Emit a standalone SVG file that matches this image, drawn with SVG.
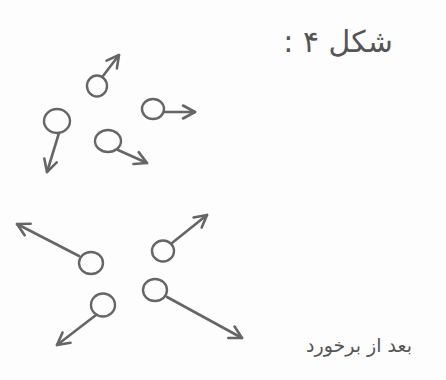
<svg xmlns="http://www.w3.org/2000/svg" width="446" height="380" viewBox="0 0 446 380">
<defs>
<style>
.c{fill:none;stroke:#666;stroke-width:2.4}
.a{fill:none;stroke:#666;stroke-width:2.6;stroke-linecap:round;marker-end:url(#h)}
.t{font-family:"DejaVu Sans","Noto Sans",sans-serif;fill:#555;direction:rtl}
</style>
<marker id="h" viewBox="-14 -9 16 18" markerWidth="16" markerHeight="18" refX="0" refY="0" orient="auto" markerUnits="userSpaceOnUse">
<path d="M-12,-6.5 L0,0 L-12,6.5" fill="none" stroke="#666" stroke-width="2.6" stroke-linecap="round" stroke-linejoin="round"/>
</marker>
</defs>
<rect width="446" height="380" fill="#fdfdfd"/>
<g id="before">
<g id="b1"><ellipse class="c" cx="97" cy="86" rx="10" ry="10.5"/></g>
<g id="b2"><ellipse class="c" cx="153" cy="109" rx="11" ry="10"/></g>
<g id="b3"><ellipse class="c" cx="57" cy="121" rx="13" ry="12"/></g>
<g id="b4"><ellipse class="c" cx="108" cy="141" rx="13" ry="11"/></g>
</g>
<g id="after">
<g id="a1"><ellipse class="c" cx="91" cy="263" rx="12" ry="11"/></g>
<g id="a2"><ellipse class="c" cx="163" cy="251" rx="11" ry="10.5"/></g>
<g id="a3"><ellipse class="c" cx="155" cy="290" rx="12" ry="11"/></g>
<g id="a4"><ellipse class="c" cx="103" cy="305" rx="12" ry="11.5"/></g>
</g>
<g id="connectors">
<line class="a" x1="103" y1="76" x2="119" y2="55"/>
<line class="a" x1="164" y1="112" x2="195" y2="112"/>
<line class="a" x1="59" y1="133" x2="47" y2="172"/>
<line class="a" x1="118" y1="150" x2="147" y2="163"/>
<line class="a" x1="79" y1="256" x2="17" y2="224"/>
<line class="a" x1="172" y1="243" x2="207" y2="215"/>
<line class="a" x1="167" y1="297" x2="242" y2="338"/>
<line class="a" x1="96" y1="315" x2="57" y2="345"/>
</g>
<g id="labels">
<text class="t" x="393" y="52" font-size="30">شکل ۴ :</text>
<text class="t" x="412" y="352" font-size="19">بعد از برخورد</text>
</g>
</svg>
